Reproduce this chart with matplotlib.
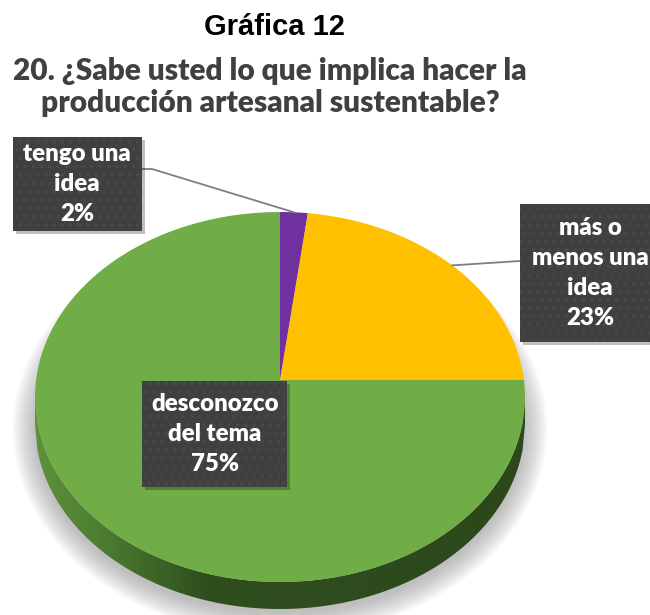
import matplotlib
matplotlib.use('Agg')

import numpy as np
import matplotlib.pyplot as plt
from matplotlib.patches import Rectangle, Ellipse, Polygon
from matplotlib.colors import LinearSegmentedColormap

# data
labels = ['tengo una\nidea', 'más o\nmenos una\nidea', 'desconozco\ndel tema']
values = [2, 23, 75]
colors = ['#7030A0', '#FFC000', '#70AD47']

title = 'Gráfica 12'
subtitle = ['20. ¿Sabe usted lo que implica hacer la',
            'producción artesanal sustentable?']

# pie geometry (pixels, y downwards)
cx, cy = 280, 397
rx, ry = 245, 185
v = 0.092          # vertex offset (perspective)
depth = 27

# label boxes: x, y, w, h
boxes = [(13, 137, 129, 94), (520, 204, 140, 138), (142, 381, 145, 106)]
text_x = [77, 590, 215]


def edge_point(theta):
    th = np.radians(theta)
    d = np.array([np.sin(th), np.cos(th)])
    V = np.array([0.0, v])
    b = V @ d
    t = -b + np.sqrt(b * b - (V @ V - 1))
    P = V + t * d
    return cx + rx * P[0], cy - ry * P[1]


fig = plt.figure(figsize=(6.5, 6.15), dpi=100)
ax = fig.add_axes([0, 0, 1, 1])

# soft shadow
for k in range(0, 24, 2):
    ax.add_patch(Ellipse((cx, cy + 32), 2 * (rx + k), 2 * (ry + k),
                         color='#808080', alpha=0.05, lw=0, zorder=1))

# side of the pie
xs = np.linspace(cx - rx, cx + rx, 200)
ys = cy + ry * np.sqrt(np.clip(1 - ((xs - cx) / rx) ** 2, 0, 1))
side = np.concatenate([np.column_stack([xs, ys]),
                       np.column_stack([xs[::-1], ys[::-1] + depth])])
side_poly = Polygon(side, closed=True, facecolor='none', edgecolor='none')
ax.add_patch(side_poly)
cmap = LinearSegmentedColormap.from_list(
    'side', [(0, '#5d923c'), (0.15, '#4a7a2f'), (0.35, '#2f4e1e'), (1, '#2c481b')])
grad = np.linspace(0, 1, 256).reshape(1, -1)
im = ax.imshow(grad, cmap=cmap, aspect='auto', zorder=2,
               extent=(cx - rx, cx + rx, cy + ry + depth + 2, cy - 2))
im.set_clip_path(side_poly)

# top of the pie
start = 0
mids = []
for val, col in zip(values, colors):
    a0 = start * 3.6
    a1 = (start + val) * 3.6
    pts = [(cx, cy - ry * v)] + [edge_point(a) for a in np.linspace(a0, a1, 120)]
    px, py = zip(*pts)
    ax.fill(px, py, color=col, lw=0, zorder=3)
    mids.append((a0 + a1) / 2)
    start += val

# leader lines
p0 = edge_point(mids[0])
ax.plot([boxes[0][0] + boxes[0][2], 152, p0[0]], [169, 169, p0[1]],
        color='#7f7f7f', lw=1.3, zorder=4)
p1 = edge_point(mids[1])
ax.plot([p1[0], boxes[1][0]], [p1[1], 261], color='#7f7f7f', lw=1.3, zorder=4)

# label boxes
for (bx, by, bw, bh), tx, lab, val in zip(boxes, text_x, labels, values):
    ax.add_patch(Rectangle((bx + 3, by + 3), bw, bh, color='#000000',
                           alpha=0.25, lw=0, zorder=5))
    ax.add_patch(Rectangle((bx, by), bw, bh, facecolor='#404040',
                           edgecolor='#4a4a4a', hatch='..', lw=0, zorder=6))
    ax.text(tx, by + bh / 2, f'{lab}\n{val}%', ha='center', va='center',
            color='white', fontsize=17.3, fontweight='heavy', family='Lato',
            linespacing=1.45, zorder=7)

# titles
ax.text(274, 27, title, ha='center', va='center', fontsize=21,
        fontweight='bold', family='Liberation Sans', color='black')
ax.text(270, 71, subtitle[0], ha='center', va='center', fontsize=21.5,
        fontweight='heavy', family='Lato', color='#404040')
ax.text(270, 103, subtitle[1], ha='center', va='center', fontsize=21.5,
        fontweight='heavy', family='Lato', color='#404040')

ax.set_xlim(0, 650)
ax.set_ylim(615, 0)
ax.axis('off')

plt.savefig('out.png')
plt.close(fig)
